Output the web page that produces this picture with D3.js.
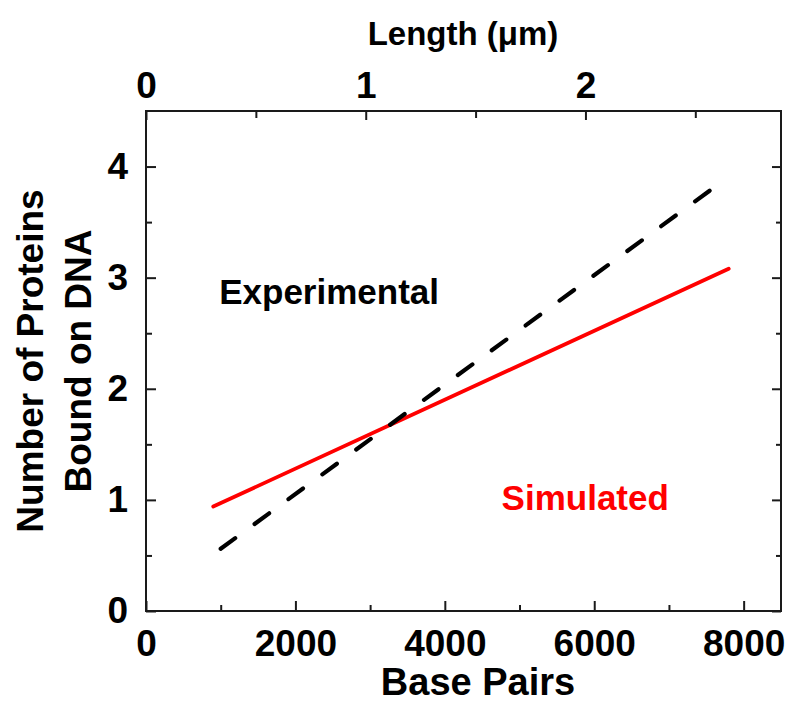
<!DOCTYPE html>
<html>
<head>
<meta charset="utf-8">
<script src="https://cdn.jsdelivr.net/npm/d3@7"></script>
<style>
  html, body { margin: 0; padding: 0; background: #fff; }
  svg { display: block; }
  text { font-family: "Liberation Sans", Arial, Helvetica, sans-serif; font-weight: bold; }
</style>
</head>
<body>
<svg id="chart" width="786" height="703"></svg>
<script>
// Linear fits of bound protein count against DNA length
const simulatedBasePairs = [900, 7800];
const simulatedBound = [0.94, 3.08];
const experimentalBasePairs = [1000, 7600];
const experimentalBound = [0.56, 3.81];

// Tick values
const bpMajorTicks = [0, 2000, 4000, 6000, 8000];
const bpMinorTicks = [1000, 3000, 5000, 7000];
const boundMajorTicks = [0, 1, 2, 3, 4];
const boundMinorTicks = [0.5, 1.5, 2.5, 3.5];
const lengthMajorTicks = [0, 1, 2];
const lengthMinorTicks = [0.5, 1.5, 2.5];

const bpMax = 8500;
const boundMax = 4.5;
const umPerBp = 0.00034;

const svg = d3.select("#chart");
const plotLeft = 146, plotRight = 781, plotTop = 111, plotBottom = 611;

const x = d3.scaleLinear().domain([0, bpMax]).range([plotLeft, plotRight]);
const xLen = d3.scaleLinear().domain([0, bpMax * umPerBp]).range([plotLeft, plotRight]);
const y = d3.scaleLinear().domain([0, boundMax]).range([plotBottom, plotTop]);

const axisColor = "#1a1a1a";
const tickFont = 37;

function styleAxis(g) {
  g.select(".domain").remove();
  g.selectAll(".tick line").attr("stroke", axisColor).attr("stroke-width", 2);
}

// bottom axis: base pairs
svg.append("g")
  .attr("transform", `translate(0,${plotBottom})`)
  .call(d3.axisBottom(x).tickValues(bpMajorTicks).tickSizeInner(-10).tickSizeOuter(0).tickPadding(19).tickFormat(d3.format("d")))
  .call(styleAxis)
  .call(g => g.selectAll(".tick text").attr("font-size", tickFont).attr("fill", "#000").attr("dy", "0.71em"));
svg.append("g")
  .attr("transform", `translate(0,${plotBottom})`)
  .call(d3.axisBottom(x).tickValues(bpMinorTicks).tickSizeInner(-6).tickSizeOuter(0).tickFormat(""))
  .call(styleAxis);

// top axis: contour length
svg.append("g")
  .attr("transform", `translate(0,${plotTop})`)
  .call(d3.axisTop(xLen).tickValues(lengthMajorTicks).tickSizeInner(-9).tickSizeOuter(0).tickPadding(13).tickFormat(d3.format("d")))
  .call(styleAxis)
  .call(g => g.selectAll(".tick text").attr("font-size", tickFont).attr("fill", "#000"));
svg.append("g")
  .attr("transform", `translate(0,${plotTop})`)
  .call(d3.axisTop(xLen).tickValues(lengthMinorTicks).tickSizeInner(-7).tickSizeOuter(0).tickFormat(""))
  .call(styleAxis);

// left axis
svg.append("g")
  .attr("transform", `translate(${plotLeft},0)`)
  .call(d3.axisLeft(y).tickValues(boundMajorTicks).tickSizeInner(-10).tickSizeOuter(0).tickPadding(18).tickFormat(d3.format("d")))
  .call(styleAxis)
  .call(g => g.selectAll(".tick text").attr("font-size", tickFont).attr("fill", "#000"));
svg.append("g")
  .attr("transform", `translate(${plotLeft},0)`)
  .call(d3.axisLeft(y).tickValues(boundMinorTicks).tickSizeInner(-6).tickSizeOuter(0).tickFormat(""))
  .call(styleAxis);

// right axis (ticks only)
svg.append("g")
  .attr("transform", `translate(${plotRight},0)`)
  .call(d3.axisRight(y).tickValues(boundMajorTicks).tickSizeInner(-9).tickSizeOuter(0).tickFormat(""))
  .call(styleAxis);
svg.append("g")
  .attr("transform", `translate(${plotRight},0)`)
  .call(d3.axisRight(y).tickValues(boundMinorTicks).tickSizeInner(-5).tickSizeOuter(0).tickFormat(""))
  .call(styleAxis);

// frame
svg.append("rect")
  .attr("x", plotLeft).attr("y", plotTop)
  .attr("width", plotRight - plotLeft).attr("height", plotBottom - plotTop)
  .attr("fill", "none").attr("stroke", axisColor).attr("stroke-width", 2);

// fitted lines
const line = d3.line().x(d => x(d[0])).y(d => y(d[1]));
const simulated = simulatedBasePairs.map((b, i) => [b, simulatedBound[i]]);
const experimental = experimentalBasePairs.map((b, i) => [b, experimentalBound[i]]);

svg.append("path")
  .datum(simulated)
  .attr("d", line)
  .attr("fill", "none").attr("stroke", "#ff0000").attr("stroke-width", 3.8)
  .attr("stroke-linecap", "round");

svg.append("path")
  .datum(experimental)
  .attr("d", line)
  .attr("fill", "none").attr("stroke", "#000").attr("stroke-width", 4.2)
  .attr("stroke-dasharray", "18,24").attr("stroke-linecap", "round");

// series labels
svg.append("text")
  .attr("x", x(980)).attr("y", y(2.76))
  .attr("font-size", 35).attr("fill", "#000")
  .text("Experimental");
svg.append("text")
  .attr("x", x(4760)).attr("y", y(0.91))
  .attr("font-size", 35).attr("fill", "#ff0000")
  .text("Simulated");

// axis titles
svg.append("text")
  .attr("x", 478).attr("y", 695)
  .attr("text-anchor", "middle").attr("font-size", 38).attr("fill", "#000")
  .text("Base Pairs");
svg.append("text")
  .attr("x", 463).attr("y", 45)
  .attr("text-anchor", "middle").attr("font-size", 33).attr("fill", "#000")
  .text("Length (\u03bcm)");

const yTitle = svg.append("text")
  .attr("transform", `translate(43,${(plotTop + plotBottom) / 2}) rotate(-90)`)
  .attr("text-anchor", "middle").attr("font-size", 37).attr("fill", "#000");
yTitle.append("tspan").attr("x", 0).attr("dy", 0).text("Number of Proteins");
yTitle.append("tspan").attr("x", 0).attr("dy", 48).text("Bound on DNA");
</script>
</body>
</html>
